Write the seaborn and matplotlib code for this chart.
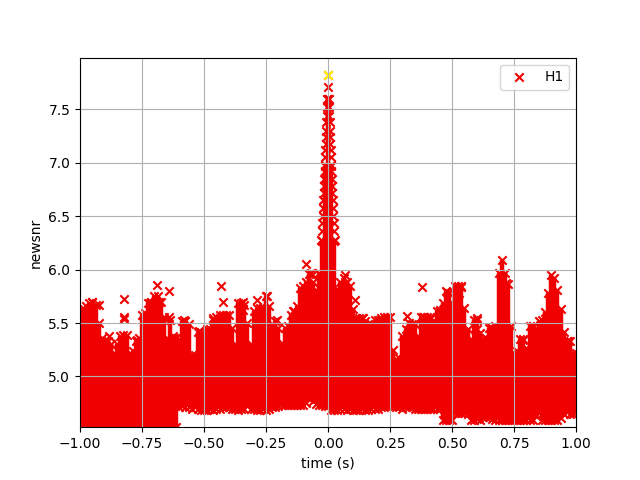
# Loudest triggers around the event, newsnr against time
import matplotlib
matplotlib.use("Agg")
import matplotlib.pyplot as plt
import pandas as pd
import seaborn as sb

RED = "#f00000"
# half height of an x marker in newsnr units, the band edges below are the visible edges
MARK_HALF = 0.03

band_time = [
    -1.0, -0.9875, -0.975, -0.9625, -0.95, -0.9375, -0.925, -0.9125, -0.9, -0.8875,
    -0.875, -0.8625, -0.85, -0.8375, -0.825, -0.8125, -0.8, -0.7875, -0.775, -0.7625,
    -0.75, -0.7375, -0.725, -0.7125, -0.7, -0.6875, -0.675, -0.6625, -0.65, -0.6375,
    -0.625, -0.6125, -0.6, -0.5875, -0.575, -0.5625, -0.55, -0.5375, -0.525, -0.5125,
    -0.5, -0.4875, -0.475, -0.4625, -0.45, -0.4375, -0.425, -0.4125, -0.4, -0.3875,
    -0.375, -0.3625, -0.35, -0.3375, -0.325, -0.3125, -0.3, -0.2875, -0.275, -0.2625,
    -0.25, -0.2375, -0.225, -0.2125, -0.2, -0.1875, -0.175, -0.1625, -0.15, -0.1375,
    -0.125, -0.1125, -0.1, -0.0875, -0.075, -0.0625, -0.05, -0.0375, -0.025, -0.0125,
    0.0,
    0.0125, 0.025, 0.0375, 0.05, 0.0625, 0.075, 0.0875, 0.1, 0.1125, 0.125,
    0.1375, 0.15, 0.1625, 0.175, 0.1875, 0.2, 0.2125, 0.225, 0.2375, 0.25,
    0.2625, 0.275, 0.2875, 0.3, 0.3125, 0.325, 0.3375, 0.35, 0.3625, 0.375,
    0.3875, 0.4, 0.4125, 0.425, 0.4375, 0.45, 0.4625, 0.475, 0.4875, 0.5,
    0.5125, 0.525, 0.5375, 0.55, 0.5625, 0.575, 0.5875, 0.6, 0.6125, 0.625,
    0.6375, 0.65, 0.6625, 0.675, 0.6875, 0.7, 0.7125, 0.725, 0.7375, 0.75,
    0.7625, 0.775, 0.7875, 0.8, 0.8125, 0.825, 0.8375, 0.85, 0.8625, 0.875,
    0.8875, 0.9, 0.9125, 0.925, 0.9375, 0.95, 0.9625, 0.975, 0.9875, 1.0,
]
band_high = [
    5.38, 5.67, 5.69, 5.72, 5.73, 5.70, 5.53, 5.39, 5.36, 5.36,
    5.33, 5.25, 5.33, 5.41, 5.42, 5.42, 5.25, 5.27, 5.36, 5.39,
    5.61, 5.62, 5.72, 5.73, 5.78, 5.78, 5.73, 5.59, 5.39, 5.56,
    5.41, 5.39, 5.38, 5.55, 5.55, 5.52, 5.23, 5.23, 5.45, 5.45,
    5.39, 5.47, 5.47, 5.56, 5.59, 5.61, 5.61, 5.61, 5.61, 5.48,
    5.33, 5.72, 5.72, 5.70, 5.53, 5.33, 5.64, 5.67, 5.67, 5.67,
    5.78, 5.69, 5.52, 5.55, 5.48, 5.34, 5.48, 5.50, 5.61, 5.64,
    5.69, 5.86, 5.88, 5.91, 5.99, 5.91, 5.84, 6.00, 6.30, 7.00,
    7.63,
    7.00, 6.30, 5.85, 5.91, 5.95, 5.91, 5.88, 5.66, 5.58, 5.58,
    5.58, 5.55, 5.52, 5.52, 5.56, 5.56, 5.58, 5.59, 5.59, 5.59,
    5.28, 5.19, 5.20, 5.41, 5.47, 5.53, 5.52, 5.52, 5.41, 5.59,
    5.59, 5.59, 5.59, 5.55, 5.64, 5.64, 5.72, 5.83, 5.81, 5.72,
    5.88, 5.88, 5.88, 5.67, 5.47, 5.38, 5.56, 5.56, 5.44, 5.38,
    5.39, 5.48, 5.48, 5.50, 6.00, 6.12, 6.00, 5.90, 5.50, 5.25,
    5.27, 5.38, 5.38, 5.30, 5.50, 5.50, 5.48, 5.55, 5.56, 5.63,
    5.81, 5.98, 5.95, 5.84, 5.66, 5.45, 5.36, 5.36, 5.25, 5.25,
]
band_low = [
    4.50, 4.50, 4.50, 4.50, 4.50, 4.50, 4.50, 4.50, 4.50, 4.50,
    4.50, 4.50, 4.50, 4.50, 4.50, 4.50, 4.50, 4.50, 4.50, 4.50,
    4.50, 4.50, 4.50, 4.50, 4.50, 4.50, 4.50, 4.50, 4.50, 4.50,
    4.50, 4.50, 4.68, 4.69, 4.68, 4.68, 4.67, 4.68, 4.67, 4.66,
    4.66, 4.66, 4.67, 4.66, 4.67, 4.67, 4.68, 4.68, 4.68, 4.67,
    4.67, 4.66, 4.67, 4.67, 4.69, 4.67, 4.67, 4.66, 4.66, 4.67,
    4.66, 4.67, 4.68, 4.68, 4.69, 4.70, 4.70, 4.70, 4.70, 4.70,
    4.70, 4.70, 4.70, 4.72, 4.76, 4.74, 4.71, 4.70, 4.70, 4.69,
    4.69,
    4.66, 4.66, 4.66, 4.67, 4.67, 4.66, 4.67, 4.66, 4.66, 4.66,
    4.67, 4.66, 4.66, 4.67, 4.67, 4.67, 4.68, 4.68, 4.69, 4.69,
    4.69, 4.68, 4.68, 4.67, 4.68, 4.68, 4.68, 4.67, 4.67, 4.67,
    4.67, 4.67, 4.67, 4.67, 4.67, 4.67, 4.56, 4.56, 4.56, 4.56,
    4.63, 4.63, 4.63, 4.63, 4.62, 4.56, 4.56, 4.57, 4.56, 4.59,
    4.59, 4.59, 4.57, 4.56, 4.56, 4.56, 4.56, 4.56, 4.56, 4.56,
    4.56, 4.56, 4.56, 4.56, 4.56, 4.56, 4.60, 4.64, 4.56, 4.56,
    4.56, 4.56, 4.56, 4.56, 4.58, 4.62, 4.64, 4.62, 4.62, 4.64,
]

# single triggers that stand out above the band
time_s = [
    -0.952, -0.922, -0.882, -0.821, -0.821, -0.821, -0.772, -0.718, -0.718, -0.688,
    -0.680, -0.640, -0.640, -0.620, -0.579, -0.519, -0.462, -0.433, -0.422, -0.344,
    -0.344, -0.285, -0.245, -0.207, -0.140, -0.090, -0.070, -0.065, 0.0, 0.0,
    0.067, 0.108, 0.141, 0.208, 0.320, 0.380, 0.383, 0.417, 0.450, 0.481,
    0.530, 0.538, 0.602, 0.602, 0.659, 0.719, 0.786, 0.827, 0.968,
]
newsnr = [
    5.70, 5.67, 5.375, 5.725, 5.56, 5.54, 5.34, 5.69, 5.59, 5.86,
    5.70, 5.80, 5.56, 5.36, 5.525, 5.43, 5.55, 5.85, 5.70, 5.70,
    5.625, 5.72, 5.75, 5.525, 5.61, 6.05, 5.97, 5.95, 7.82, 7.71,
    5.95, 5.72, 5.55, 5.53, 5.57, 5.84, 5.56, 5.55, 5.62, 5.79,
    5.78, 5.84, 5.55, 5.44, 5.45, 5.875, 5.34, 5.47, 5.33,
]

# triggers packed into the narrow spike at t = 0
spike_time = [
    -0.004, 0.004, -0.006, 0.006, -0.006, 0.006, -0.008, 0.008, -0.008, 0.008,
    -0.010, 0.010, -0.010, 0.010, -0.012, 0.012, -0.012, 0.012, -0.014, 0.014,
    -0.014, 0.014, -0.016, 0.016, -0.018, 0.018, -0.018, 0.018, -0.020, 0.020,
    -0.020, 0.020, -0.022, 0.022, -0.024, 0.024, -0.026, 0.026, -0.028, 0.028,
]
spike_newsnr = [
    7.60, 7.60, 7.52, 7.52, 7.44, 7.44, 7.38, 7.38, 7.30, 7.30,
    7.24, 7.24, 7.18, 7.18, 7.12, 7.12, 7.05, 7.05, 6.98, 6.98,
    6.92, 6.92, 6.85, 6.85, 6.78, 6.78, 6.72, 6.72, 6.65, 6.65,
    6.58, 6.58, 6.50, 6.50, 6.44, 6.44, 6.36, 6.36, 6.28, 6.28,
]

# loudest trigger is picked out in yellow
loudest_time = [0.0]
loudest_newsnr = [7.82]

triggers = pd.DataFrame({'time': time_s, 'newsnr': newsnr})
spike = pd.DataFrame({'time': spike_time, 'newsnr': spike_newsnr})
band = pd.DataFrame({'time': band_time,
                     'top': [h - MARK_HALF for h in band_high],
                     'bottom': [l + MARK_HALF for l in band_low]})

fig, ax = plt.subplots(figsize=(6.4, 4.8), dpi=100)
ax.vlines(band['time'], band['bottom'], band['top'], color=RED, linewidth=3.2, zorder=1)
for col in ['top', 'bottom']:
    sb.scatterplot(data=band, x='time', y=col, marker='x', color=RED,
                   s=36, linewidth=1.5, legend=False, zorder=1, ax=ax)
sb.scatterplot(data=spike, x='time', y='newsnr', marker='x', color=RED,
               s=36, linewidth=1.5, legend=False, zorder=1, ax=ax)
sb.scatterplot(data=triggers, x='time', y='newsnr', marker='x', color=RED,
               s=36, linewidth=1.5, label='H1', zorder=1, ax=ax)
ax.scatter(loudest_time, loudest_newsnr, marker='x', color='#ffff00', s=36, zorder=1.2)

ax.set_xlim(-1, 1)
ax.set_ylim(4.525, 7.985)
ax.set_xlabel('time (s)')
ax.set_ylabel('newsnr')
ax.grid(True)
ax.legend(loc='upper right')

fig.savefig('out.png', dpi=100)
